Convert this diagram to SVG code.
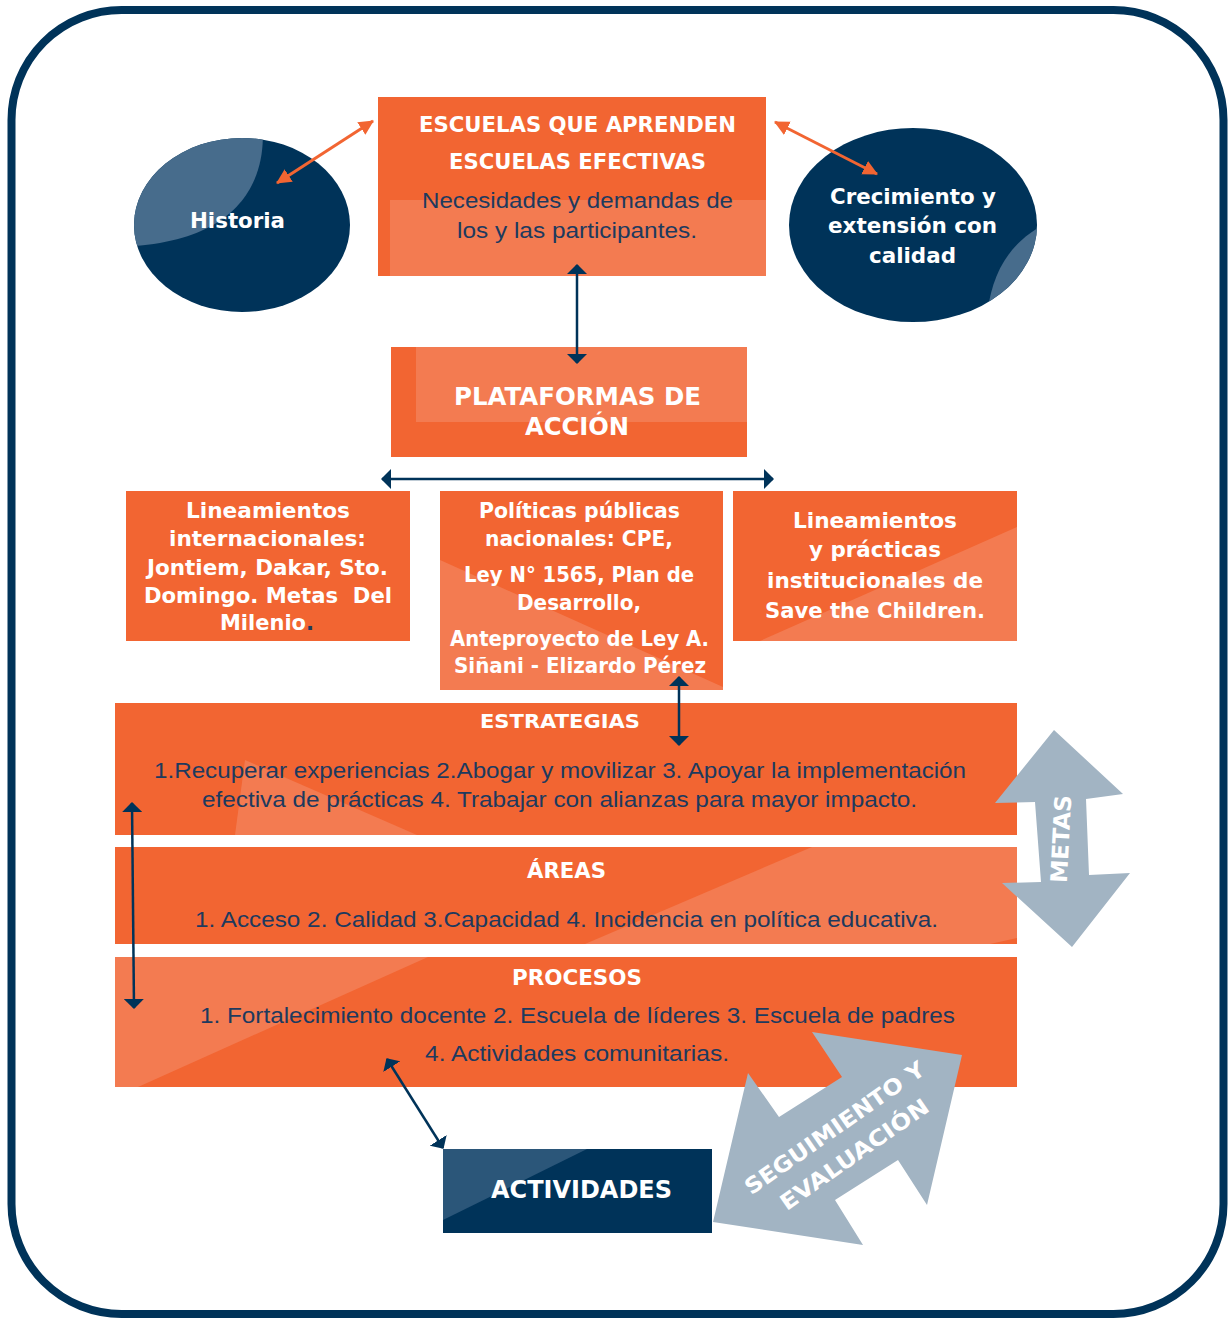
<svg xmlns="http://www.w3.org/2000/svg" width="1229" height="1318" viewBox="0 0 1229 1318">
<defs>
<style>
.o{fill:#F26532}
.ol{fill:#F37B51}
.nv{fill:#003359}
.nvl{fill:#476C8C}
.nva{fill:#2B5679}
.gr{fill:#A2B4C3}
.h{font-family:"DejaVu Sans","Liberation Sans",sans-serif;font-weight:bold;fill:#ffffff;text-anchor:middle;font-size:21px}
.b{font-family:"Liberation Sans",Arial,sans-serif;fill:#1D3A5E;text-anchor:middle;font-size:22px}
.cn{stroke:#003359;stroke-width:2.5;fill:none}
.co{stroke:#F26532;stroke-width:3;fill:none}
</style>
<marker id="an" viewBox="0 0 10 20" refX="9" refY="10" markerWidth="10" markerHeight="20" markerUnits="userSpaceOnUse" orient="auto-start-reverse">
<path d="M0,0 L10,10 L0,20 Z" fill="#003359"/>
</marker>
<marker id="ao" viewBox="0 0 14 14" refX="13" refY="7" markerWidth="15" markerHeight="15" markerUnits="userSpaceOnUse" orient="auto-start-reverse">
<path d="M0,0 L14,7 L0,14 Z" fill="#F26532"/>
</marker>
<clipPath id="c1"><ellipse cx="242" cy="225" rx="108" ry="87"/></clipPath>
<clipPath id="c2"><ellipse cx="913" cy="225" rx="124" ry="97"/></clipPath>
</defs>

<rect x="11.5" y="10" width="1212" height="1304" rx="110" ry="110" fill="none" stroke="#003359" stroke-width="8"/>

<g id="historia">
<ellipse cx="242" cy="225" rx="108" ry="87" class="nv"/>
<path d="M262,120 C268,175 245,238 134,246 L120,246 L120,120 Z" class="nvl" clip-path="url(#c1)"/>
<text x="237.5" y="227.5" class="h" textLength="95" lengthAdjust="spacingAndGlyphs">Historia</text>
</g>

<g id="crecimiento">
<ellipse cx="913" cy="225" rx="124" ry="97" class="nv"/>
<path d="M986,330 C988,280 1005,245 1045,224 L1045,330 Z" class="nvl" clip-path="url(#c2)"/>
<text x="913" y="204" class="h" textLength="166" lengthAdjust="spacingAndGlyphs">Crecimiento y</text>
<text x="912.5" y="233" class="h" textLength="169" lengthAdjust="spacingAndGlyphs">extensión con</text>
<text x="912.5" y="263" class="h" textLength="87" lengthAdjust="spacingAndGlyphs">calidad</text>
</g>

<g id="escuelas">
<rect x="378" y="97" width="388" height="179" class="o"/>
<rect x="390" y="200" width="376" height="76" class="ol"/>
<text x="577.5" y="132" class="h" textLength="317" lengthAdjust="spacingAndGlyphs">ESCUELAS QUE APRENDEN</text>
<text x="577.5" y="169" class="h" textLength="257" lengthAdjust="spacingAndGlyphs">ESCUELAS EFECTIVAS</text>
<text x="577.5" y="208" class="b" textLength="311" lengthAdjust="spacingAndGlyphs">Necesidades y demandas de</text>
<text x="577" y="238" class="b" textLength="240" lengthAdjust="spacingAndGlyphs">los y las participantes.</text>
</g>

<g id="plataformas">
<rect x="391" y="347" width="356" height="110" class="o"/>
<rect x="416" y="347" width="331" height="75" class="ol"/>
<text x="577.5" y="405" class="h" style="font-size:24px" textLength="247" lengthAdjust="spacingAndGlyphs">PLATAFORMAS DE</text>
<text x="577" y="435" class="h" style="font-size:24px" textLength="104" lengthAdjust="spacingAndGlyphs">ACCIÓN</text>
</g>

<g id="lineamientos-internacionales">
<rect x="126" y="491" width="284" height="150" class="o"/>
<text x="268" y="518" class="h" textLength="164" lengthAdjust="spacingAndGlyphs">Lineamientos</text>
<text x="267.5" y="546" class="h" textLength="197" lengthAdjust="spacingAndGlyphs">internacionales:</text>
<text x="267.5" y="575" class="h" textLength="241" lengthAdjust="spacingAndGlyphs">Jontiem, Dakar, Sto.</text>
<text x="268" y="603" class="h" style="white-space:pre" textLength="248" lengthAdjust="spacingAndGlyphs">Domingo. Metas  Del</text>
<text x="267" y="630" class="h" textLength="94" lengthAdjust="spacingAndGlyphs">Milenio<tspan fill="#1D3A5E">.</tspan></text>
</g>

<g id="politicas-publicas">
<rect x="440" y="491" width="283" height="199" class="o"/>
<path d="M440,560 L723,687 L723,690 L440,690 Z" class="ol"/>
<text x="579.5" y="518" class="h" textLength="201" lengthAdjust="spacingAndGlyphs">Políticas públicas</text>
<text x="579" y="546" class="h" textLength="188" lengthAdjust="spacingAndGlyphs">nacionales: CPE,</text>
<text x="579" y="582" class="h" textLength="230" lengthAdjust="spacingAndGlyphs">Ley N° 1565, Plan de</text>
<text x="579" y="610" class="h" textLength="124" lengthAdjust="spacingAndGlyphs">Desarrollo,</text>
<text x="579.5" y="646" class="h" textLength="259" lengthAdjust="spacingAndGlyphs">Anteproyecto de Ley A.</text>
<text x="580" y="673" class="h" textLength="252" lengthAdjust="spacingAndGlyphs">Siñani - Elizardo Pérez</text>
</g>

<g id="lineamientos-save">
<rect x="733" y="491" width="284" height="150" class="o"/>
<path d="M760,641 L1017,527 L1017,641 Z" class="ol"/>
<text x="875" y="528" class="h" textLength="164" lengthAdjust="spacingAndGlyphs">Lineamientos</text>
<text x="875" y="557" class="h" textLength="132" lengthAdjust="spacingAndGlyphs">y prácticas</text>
<text x="875" y="588" class="h" textLength="216" lengthAdjust="spacingAndGlyphs">institucionales de</text>
<text x="875" y="618" class="h" textLength="220" lengthAdjust="spacingAndGlyphs">Save the Children.</text>
</g>

<g id="estrategias">
<rect x="115" y="703" width="902" height="132" class="o"/>
<path d="M245,760 L417,835 L235,835 Z" class="ol"/>
<text x="560" y="728" class="h" style="font-size:20px" textLength="160" lengthAdjust="spacingAndGlyphs">ESTRATEGIAS</text>
<text x="560" y="778" class="b" textLength="812" lengthAdjust="spacingAndGlyphs">1.Recuperar experiencias 2.Abogar y movilizar 3. Apoyar la implementación</text>
<text x="559.5" y="807" class="b" textLength="715" lengthAdjust="spacingAndGlyphs">efectiva de prácticas 4. Trabajar con alianzas para mayor impacto.</text>
</g>

<g id="areas">
<rect x="115" y="847" width="902" height="97" class="o"/>
<path d="M812,847 L1017,847 L1017,938 L990,944 L585,944 Z" class="ol"/>
<text x="566.5" y="878" class="h" textLength="79" lengthAdjust="spacingAndGlyphs">ÁREAS</text>
<text x="566.5" y="927" class="b" textLength="743" lengthAdjust="spacingAndGlyphs">1. Acceso 2. Calidad 3.Capacidad 4. Incidencia en política educativa.</text>
</g>

<g id="procesos">
<rect x="115" y="957" width="902" height="130" class="o"/>
<path d="M115,957 L428,957 L138,1087 L115,1087 Z" class="ol"/>
<text x="577" y="985" class="h" textLength="130" lengthAdjust="spacingAndGlyphs">PROCESOS</text>
<text x="577.5" y="1023" class="b" textLength="755" lengthAdjust="spacingAndGlyphs">1. Fortalecimiento docente 2. Escuela de líderes 3. Escuela de padres</text>
<text x="577" y="1061" class="b" textLength="304" lengthAdjust="spacingAndGlyphs">4. Actividades comunitarias.</text>
</g>

<g id="actividades">
<rect x="443" y="1149" width="269" height="84" class="nv"/>
<path d="M443,1149 L587,1149 L443,1220 Z" class="nva"/>
<text x="581.5" y="1198" class="h" style="font-size:24px" textLength="181" lengthAdjust="spacingAndGlyphs">ACTIVIDADES</text>
</g>

<g id="metas">
<polygon points="1054,730 1123,794 1086,799 1089,875 1130,873 1072,947 1002,883 1041,882 1035,802 995,803" class="gr"/>
<text transform="translate(1061,839) rotate(-87)" x="0" y="8" class="h" style="font-size:23px" textLength="88" lengthAdjust="spacingAndGlyphs">METAS</text>
</g>

<g id="seguimiento">
<polygon points="812,1032 962,1055 927,1205 898,1160 835,1200 863,1245 713,1222 748,1073 779,1117 842,1077" class="gr"/>
<g transform="translate(845,1141) rotate(-35)">
<text x="-1" y="-9" class="h" style="font-size:22px" textLength="214" lengthAdjust="spacingAndGlyphs">SEGUIMIENTO Y</text>
<text x="0" y="24" class="h" style="font-size:22px" textLength="176" lengthAdjust="spacingAndGlyphs">EVALUACIÓN</text>
</g>
</g>

<g id="connectors">
<line x1="277" y1="183" x2="373" y2="121" class="co" marker-start="url(#ao)" marker-end="url(#ao)"/>
<line x1="775" y1="122" x2="877" y2="174" class="co" marker-start="url(#ao)" marker-end="url(#ao)"/>
<line x1="577" y1="265" x2="577" y2="363" class="cn" marker-start="url(#an)" marker-end="url(#an)"/>
<line x1="382" y1="479" x2="773" y2="479" class="cn" marker-start="url(#an)" marker-end="url(#an)"/>
<line x1="679" y1="677" x2="679" y2="745" class="cn" marker-start="url(#an)" marker-end="url(#an)"/>
<line x1="132" y1="803" x2="134" y2="1008" class="cn" marker-start="url(#an)" marker-end="url(#an)"/>
<line x1="387" y1="1059" x2="443" y2="1148" class="cn" marker-start="url(#an)" marker-end="url(#an)"/>
</g>
</svg>
